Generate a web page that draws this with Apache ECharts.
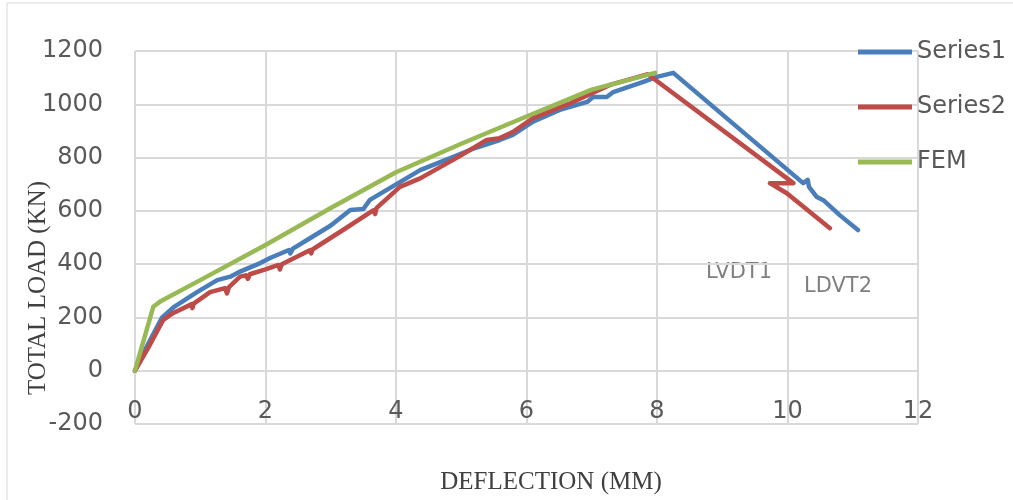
<!DOCTYPE html>
<html>
<head>
<meta charset="utf-8">
<script src="https://cdn.jsdelivr.net/npm/echarts@6/dist/echarts.min.js"></script>
<style>
  html, body { margin: 0; padding: 0; background: #fff; }
  #chart { width: 1013px; height: 500px; }
</style>
</head>
<body>
<div id="chart"></div>
<script>
var chart = echarts.init(document.getElementById('chart'));

// deflection (mm) / load (kN) pairs
var series1 = [
  [0, 0], [0.2, 100], [0.41, 198], [0.6, 240], [0.95, 295], [1.26, 340], [1.46, 353],
  [1.61, 372], [1.92, 404], [2.07, 423], [2.36, 453], [2.38, 440], [2.42, 458],
  [2.7, 500], [3.0, 545], [3.3, 603], [3.5, 607], [3.6, 641], [4.06, 708], [4.37, 753],
  [4.87, 802], [5.2, 835], [5.59, 866], [5.79, 885], [6.1, 935], [6.51, 979],
  [6.93, 1009], [7.02, 1027], [7.23, 1027], [7.33, 1046], [7.79, 1084], [8.0, 1103],
  [8.25, 1118], [10.24, 704], [10.31, 716], [10.33, 690], [10.45, 652], [10.55, 640],
  [10.8, 584], [11.08, 528]
];
var series2 = [
  [0, 0], [0.2, 85], [0.43, 190], [0.58, 216], [0.87, 250], [0.88, 235], [0.9, 252],
  [1.15, 295], [1.38, 310], [1.41, 290], [1.44, 314], [1.61, 353], [1.7, 358], [1.73, 345],
  [1.76, 362], [2.0, 380], [2.2, 397], [2.22, 380], [2.25, 400], [2.68, 452], [2.7, 440],
  [2.72, 455], [3.2, 530], [3.65, 602], [3.68, 588], [3.7, 610], [4.06, 690], [4.37, 722],
  [4.93, 799], [5.39, 866], [5.59, 873], [5.79, 896], [6.1, 948], [6.67, 1004],
  [7.28, 1073], [7.86, 1113], [10.09, 704], [9.73, 704], [9.99, 666], [10.65, 535]
];
var fem = [
  [0, 0], [0.28, 240], [0.4, 262], [1, 340], [2, 472], [3, 611], [4, 745],
  [5, 852], [6, 954], [7, 1055], [7.97, 1118]
];

var names = ['Series1', 'Series2', 'FEM'];
var colors = ['#4a7ebb', '#be4b48', '#98b954'];
var xTicks = { min: 0, max: 12, interval: 2 };
var yTicks = { min: -200, max: 1200, interval: 200 };

var tickFont = { fontFamily: 'DejaVu Sans', fontSize: 24, color: '#595959' };
var gridLine = { show: true, lineStyle: { color: '#d9d9d9', width: 2 } };

function plain(v) { return String(v); }

function lineSeries(name, data, color) {
  return {
    name: name,
    type: 'line',
    data: data,
    symbol: 'none',
    color: color,
    lineStyle: { width: 4.5, color: color, cap: 'round', join: 'round' },
    animation: false
  };
}

var option = {
  backgroundColor: '#fff',
  grid: { left: 135, right: 95, top: 51, bottom: 76 },
  xAxis: {
    type: 'value',
    min: xTicks.min, max: xTicks.max, interval: xTicks.interval,
    axisLine: { show: false, onZero: false },
    axisTick: { show: false },
    splitLine: gridLine,
    axisLabel: Object.assign({ inside: true, margin: 0, formatter: plain }, tickFont)
  },
  yAxis: {
    type: 'value',
    min: yTicks.min, max: yTicks.max, interval: yTicks.interval,
    axisLine: { show: false },
    axisTick: { show: false },
    splitLine: gridLine,
    axisLabel: Object.assign({ margin: 32, formatter: plain }, tickFont)
  },
  legend: {
    orient: 'vertical',
    left: 853, top: 34,
    itemWidth: 54, itemHeight: 5,
    itemGap: 29,
    icon: 'rect',
    data: names,
    textStyle: { fontFamily: 'DejaVu Sans', fontSize: 24, color: '#595959', lineHeight: 26 }
  },
  graphic: [
    { type: 'rect', shape: { x: 7, y: 3, width: 1020, height: 520 },
      style: { fill: 'none', stroke: '#d9d9d9', lineWidth: 1 }, silent: true },
    { type: 'text', x: 38, y: 288, rotation: Math.PI / 2,
      style: { text: 'TOTAL LOAD (KN)', font: '25px "Liberation Serif"', fill: '#404040',
               textAlign: 'center', textVerticalAlign: 'middle' } },
    { type: 'text', x: 551, y: 482,
      style: { text: 'DEFLECTION (MM)', font: '25px "Liberation Serif"', fill: '#404040',
               textAlign: 'center', textVerticalAlign: 'middle' } },
    { type: 'text', x: 739, y: 273,
      style: { text: 'LVDT1', font: '21px "DejaVu Sans"', fill: '#7f7f7f',
               textAlign: 'center', textVerticalAlign: 'middle' } },
    { type: 'text', x: 838, y: 287,
      style: { text: 'LDVT2', font: '21px "DejaVu Sans"', fill: '#7f7f7f',
               textAlign: 'center', textVerticalAlign: 'middle' } }
  ],
  series: [
    lineSeries(names[0], series1, colors[0]),
    lineSeries(names[1], series2, colors[1]),
    lineSeries(names[2], fem, colors[2])
  ]
};

chart.setOption(option);
</script>
</body>
</html>
